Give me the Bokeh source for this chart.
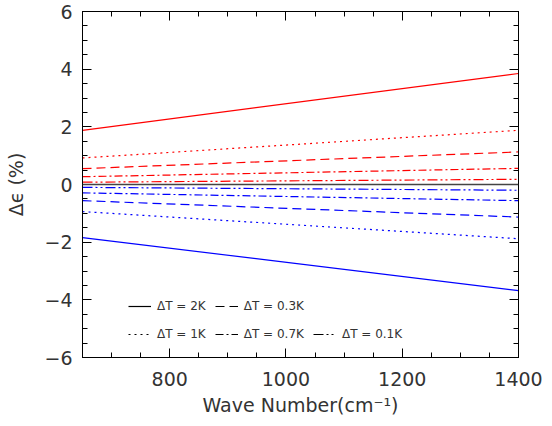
from bokeh.plotting import figure
from bokeh.models import (Range1d, SingleIntervalTicker, LinearAxis, Span,
                          Legend, LegendItem, CustomJSTickFormatter)
from bokeh.embed import file_html
from bokeh.resources import INLINE

# ---- data ----
wavenumber = [650, 1400]
red_2K = [1.88, 3.85]
red_1K = [0.92, 1.88]
red_03K = [0.55, 1.13]
red_07K = [0.27, 0.56]
red_01K = [0.08, 0.18]
blue_2K = [-1.84, -3.68]
blue_1K = [-0.94, -1.88]
blue_03K = [-0.56, -1.13]
blue_07K = [-0.29, -0.56]
blue_01K = [-0.10, -0.20]

legend_row1 = ["ΔT = 2K", "ΔT = 0.3K"]
legend_row2 = ["ΔT = 1K", "ΔT = 0.7K", "ΔT = 0.1K"]

FONT = "DejaVu Sans"
TXT = "#333333"

SOLID = "solid"
DOT = "2 4"
DASH = "9 5"
DASHDOT = "8 3 2 3"
DASHDOTDOT = "10 3 2 3 2 3"

p = figure(width=544, height=418, output_backend="svg", toolbar_location=None,
           x_range=Range1d(650, 1400), y_range=Range1d(-6, 6),
           min_border_left=82, min_border_right=26, min_border_top=11,
           min_border_bottom=60)
p.xgrid.visible = False
p.ygrid.visible = False
p.outline_line_color = "black"
p.background_fill_color = "white"

p.xaxis.ticker = SingleIntervalTicker(interval=200, num_minor_ticks=4)
p.yaxis.ticker = SingleIntervalTicker(interval=2, num_minor_ticks=4)
p.yaxis.formatter = CustomJSTickFormatter(
    code="return tick < 0 ? '\u2212' + (-tick) : '' + tick;")

for ax in (p.xaxis[0], p.yaxis[0]):
    ax.major_tick_in = 9
    ax.major_tick_out = 0
    ax.minor_tick_in = 5
    ax.minor_tick_out = 0
    ax.axis_line_color = "black"
    ax.major_tick_line_color = "black"
    ax.minor_tick_line_color = "black"
    ax.major_label_text_font = FONT
    ax.major_label_text_font_size = "19px"
    ax.major_label_text_color = TXT
    ax.axis_label_text_font = FONT
    ax.axis_label_text_font_size = "19px"
    ax.axis_label_text_font_style = "normal"
    ax.axis_label_text_color = TXT

p.xaxis.axis_label = "Wave Number(cm⁻¹)"
p.xaxis.major_label_standoff = 14
p.xaxis.axis_label_standoff = 5
p.yaxis.axis_label = "Δϵ (%)"
p.yaxis.major_label_standoff = 10
p.yaxis.axis_label_standoff = 14

blank = CustomJSTickFormatter(code="return '';")
top_ax = LinearAxis(ticker=SingleIntervalTicker(interval=200, num_minor_ticks=4),
                    formatter=blank)
right_ax = LinearAxis(ticker=SingleIntervalTicker(interval=2, num_minor_ticks=4),
                      formatter=blank)
for ax in (top_ax, right_ax):
    ax.major_tick_in = 9
    ax.major_tick_out = 0
    ax.minor_tick_in = 5
    ax.minor_tick_out = 0
    ax.major_label_text_font_size = "2px"
    ax.major_label_standoff = 0
    ax.axis_line_color = "black"
p.add_layout(top_ax, "above")
p.add_layout(right_ax, "right")

p.add_layout(Span(location=0, dimension="width", line_color="#444444",
                  line_width=1.5))

series = [
    (red_2K, "red", SOLID), (red_1K, "red", DOT), (red_03K, "red", DASH),
    (red_07K, "red", DASHDOT), (red_01K, "red", DASHDOTDOT),
    (blue_2K, "blue", SOLID), (blue_1K, "blue", DOT), (blue_03K, "blue", DASH),
    (blue_07K, "blue", DASHDOT), (blue_01K, "blue", DASHDOTDOT),
]
for ys, col, dash in series:
    p.line(wavenumber, ys, line_color=col, line_width=1.2, line_dash=dash)

# legend proxies (black samples, no visible data)
def proxy(dash):
    return p.line([float("nan")], [float("nan")], line_color="black",
                  line_width=1.2, line_dash=dash)

r1 = [proxy(SOLID), proxy(DASH)]
r2 = [proxy(DOT), proxy(DASHDOT), proxy(DASHDOTDOT)]

def make_legend(labels, rends, loc):
    return Legend(items=[LegendItem(label=l, renderers=[r]) for l, r in zip(labels, rends)],
                  orientation="horizontal", location=loc,
                  background_fill_alpha=0, border_line_alpha=0,
                  padding=0, margin=0, spacing=9, label_standoff=6,
                  glyph_width=23, glyph_height=12, label_height=12,
                  label_text_font=FONT, label_text_font_size="12px",
                  label_text_color=TXT)

p.add_layout(make_legend(legend_row1, r1, (46, 44)), "center")
p.add_layout(make_legend(legend_row2, r2, (46, 16)), "center")

open("out.html", "w").write(file_html(p, INLINE))
